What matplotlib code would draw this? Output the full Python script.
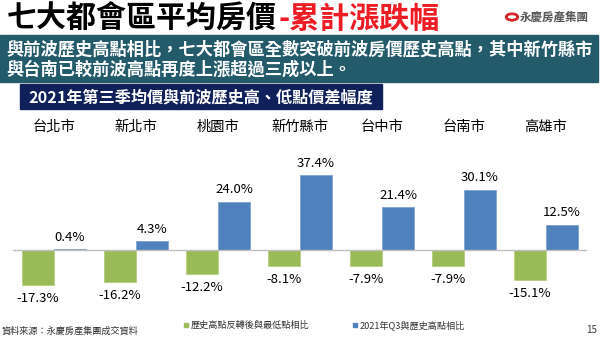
import numpy as np
import matplotlib
matplotlib.use('Agg')
import matplotlib.pyplot as plt
from matplotlib.patches import Rectangle, Circle

plt.rcParams['font.family'] = ['Noto Sans CJK TC', 'DejaVu Sans']

cities = ['台北市', '新北市', '桃園市', '新竹縣市', '台中市', '台南市', '高雄市']
low_vs = [-17.3, -16.2, -12.2, -8.1, -7.9, -7.9, -15.1]
high_vs = [0.4, 4.3, 24.0, 37.4, 21.4, 30.1, 12.5]
legend_names = ['歷史高點反轉後與最低點相比', '2021年Q3與歷史高點相比']

green = '#9bbb59'
blue = '#4f81bd'

W, H = 600, 337
fig = plt.figure(figsize=(6, 3.37), dpi=100)

def fx(px):
    return px / W

def fy(py):
    return 1 - py / H

# title
fig.text(fx(7), fy(19), '七大都會區平均房價', fontsize=21.6, fontweight='heavy',
         color='black', va='center', ha='left')
fig.text(fx(278), fy(19), '-累計漲跌幅', fontsize=21.6, fontweight='heavy',
         color='#ee1c25', va='center', ha='left')

# logo
fig.patches.append(Circle((fx(512), fy(17)), 0.0095, transform=fig.transFigure,
                          fill=False, ec='#d7262c', lw=2))
fig.text(fx(520), fy(17), '永慶房產集團', fontsize=8.3, fontweight='bold',
         color='#555555', va='center', ha='left')

# teal box
fig.patches.append(Rectangle((0, fy(82)), 598 / W, (82 - 35) / H, transform=fig.transFigure,
                             color='#235b6a', zorder=0))
fig.text(fx(6), fy(50), '與前波歷史高點相比，七大都會區全數突破前波房價歷史高點，其中新竹縣市',
         fontsize=12.4, fontweight='bold', color='white', va='center', ha='left')
fig.text(fx(6), fy(69.5), '與台南已較前波高點再度上漲超過三成以上。',
         fontsize=12.4, fontweight='bold', color='white', va='center', ha='left')

# navy box
fig.patches.append(Rectangle((fx(20), fy(109)), (382 - 20) / W, (109 - 84) / H,
                             transform=fig.transFigure, color='#10205a', zorder=0))
fig.text(fx(201), fy(97.5), '2021年第三季均價與前波歷史高、低點價差幅度',
         fontsize=11.6, fontweight='bold', color='white', va='center', ha='center')

# chart
ax = fig.add_axes([fx(13), fy(315), (587 - 13) / W, (315 - 115) / H])
x = np.arange(len(cities))
bw = 0.39
ax.bar(x - bw / 2, low_vs, bw, color=green, edgecolor='#b5cf80', lw=0.6)
ax.bar(x + bw / 2, high_vs, bw, color=blue, edgecolor='#7fa3d3', lw=0.6)
ax.set_xlim(-0.5, len(cities) - 0.5)
ax.set_ylim(-32.5, 67.5)
ax.axhline(0, color='#bfbfbf', lw=1)
for s in ax.spines.values():
    s.set_visible(False)
ax.set_xticks([])
ax.set_yticks([])
ax.patch.set_alpha(0)

for i in range(len(cities)):
    ax.text(x[i], (250 - 126.5) / 2, cities[i], ha='center', va='center',
            fontsize=10.3, color='black')
    ax.annotate(f'{high_vs[i]:.1f}%', (x[i] + bw / 2, high_vs[i]), xytext=(0, 4),
                textcoords='offset points', ha='center', va='bottom', fontsize=9.5)
    ax.annotate(f'{low_vs[i]:.1f}%', (x[i] - bw / 2, low_vs[i]), xytext=(0, -5),
                textcoords='offset points', ha='center', va='top', fontsize=9.5)

# footer
fig.text(fx(2), fy(331), '資料來源：永慶房產集團成交資料', fontsize=6.6, color='#333333',
         va='center', ha='left')
fig.patches.append(Rectangle((fx(184), fy(327)), fx(4), 4 / H, transform=fig.transFigure,
                             color=green))
fig.text(fx(191), fy(325), legend_names[0], fontsize=6.6, color='#333333',
         va='center', ha='left')
fig.patches.append(Rectangle((fx(353), fy(327)), fx(4), 4 / H, transform=fig.transFigure,
                             color=blue))
fig.text(fx(360), fy(325), legend_names[1], fontsize=6.6, color='#333333',
         va='center', ha='left')
fig.text(fx(592), fy(330), '15', fontsize=7, color='#333333', va='center', ha='center')

fig.savefig('out.png', dpi=100)
